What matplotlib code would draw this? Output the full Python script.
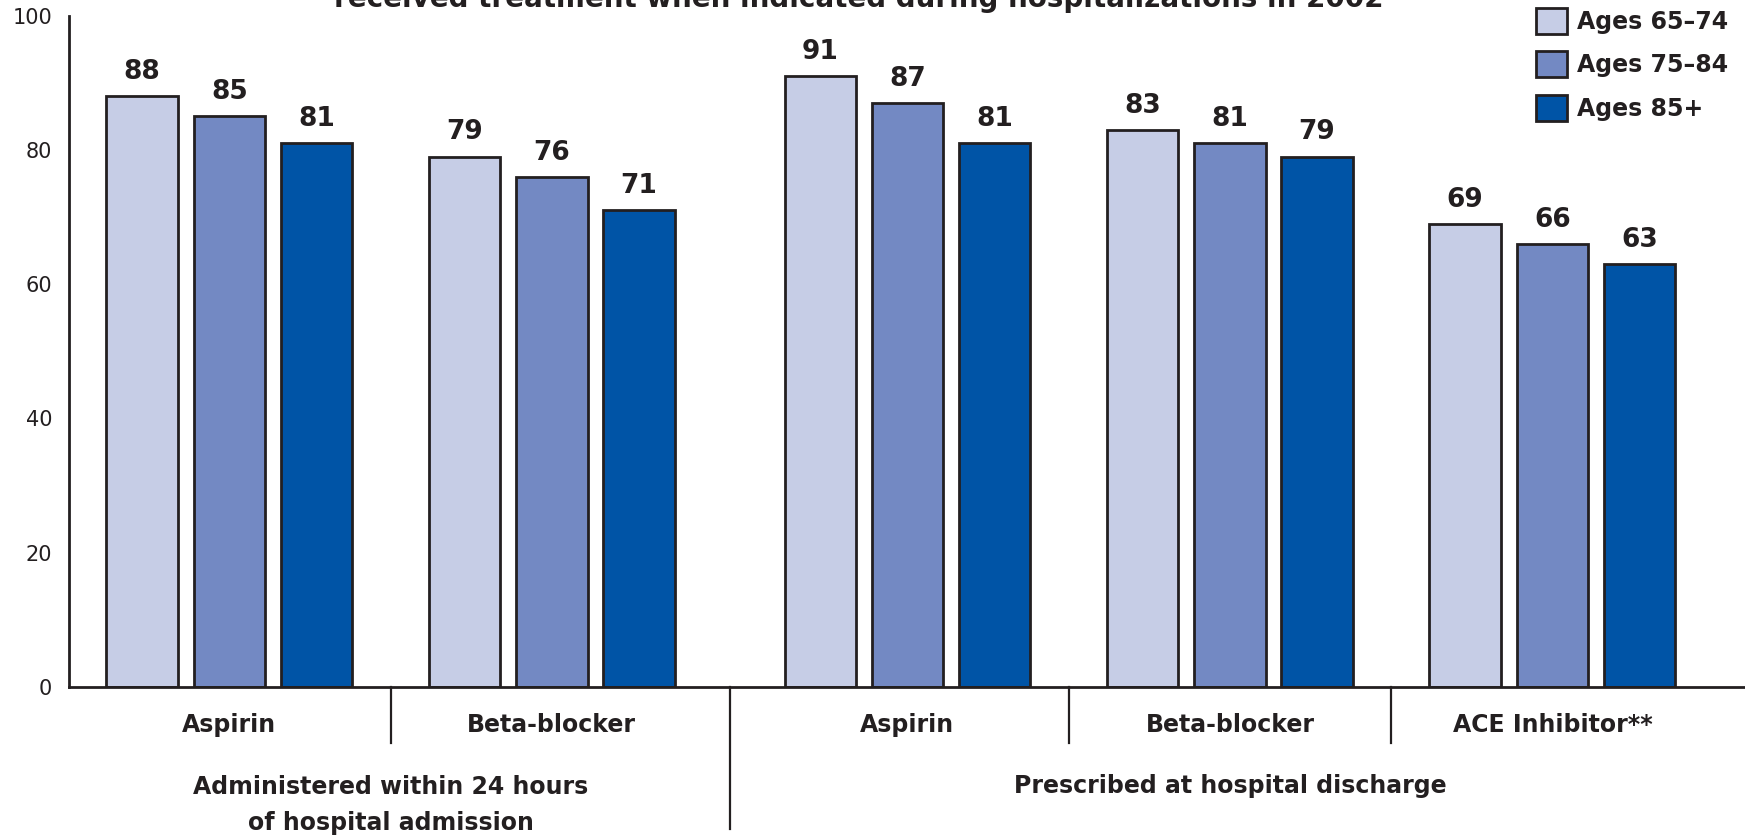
import matplotlib.pyplot as plt
import matplotlib.transforms as mtransforms
import numpy as np

# data: percent receiving treatment, by age group
drugs = ["Aspirin", "Beta-blocker", "Aspirin", "Beta-blocker", "ACE Inhibitor**"]
ages_65_74 = [88, 79, 91, 83, 69]
ages_75_84 = [85, 76, 87, 81, 66]
ages_85_up = [81, 71, 81, 79, 63]
series_names = ["Ages 65\u201374", "Ages 75\u201384", "Ages 85+"]
sections = ["Administered within 24 hours\nof hospital admission",
            "Prescribed at hospital discharge"]
yticks = [0, 20, 40, 60, 80, 100]

colors = ["#C6CDE6", "#7389C3", "#0054A6"]
ink = "#231F20"

fig = plt.figure(figsize=(17.45, 8.38), dpi=100)
ax = fig.add_axes([0.0395, 0.1802, 0.9605, 0.8012])

# group centres, with a wider gap between the two sections
centers = np.array([0.0, 3.7, 7.78, 11.48, 15.18])
width = 0.82
bars = []
for i, (vals, col, name) in enumerate(zip([ages_65_74, ages_75_84, ages_85_up], colors, series_names)):
    b = ax.bar(centers + (i - 1), vals, width, color=col, edgecolor=ink,
               linewidth=2, label=name, zorder=2)
    bars.append(b)
    for rect, v in zip(b, vals):
        ax.annotate(str(v), (rect.get_x() + rect.get_width() / 2, v),
                    xytext=(0, 8), textcoords="offset points",
                    ha="center", va="bottom", fontsize=19,
                    fontweight="bold", color=ink)

ax.set_xlim(-1.84, 17.39)
ax.set_ylim(0, 100)
ax.set_yticks(yticks)
ax.tick_params(axis="y", length=0, pad=12, labelsize=15, labelcolor=ink)
ax.set_xticks([])
for s in ["top", "right"]:
    ax.spines[s].set_visible(False)
for s in ["left", "bottom"]:
    ax.spines[s].set_color(ink)
    ax.spines[s].set_linewidth(2)

# category labels and separators below the axis
trans = mtransforms.blended_transform_factory(ax.transData, ax.transAxes)
for c, name in zip(centers, drugs):
    ax.text(c, -0.057, name, transform=trans, ha="center", va="center",
            fontsize=17, fontweight="bold", color=ink)

mids = (centers[:-1] + centers[1:]) / 2
for j, m in enumerate(mids):
    low = -0.212 if j == 1 else -0.083
    ax.plot([m, m], [0, low], transform=trans, color=ink, lw=1.6,
            clip_on=False)

ax.text(mids[0], -0.176, sections[0], transform=trans, ha="center",
        va="center", fontsize=17, fontweight="bold", color=ink,
        linespacing=1.6)
ax.text(centers[2:].mean(), -0.148, sections[1], transform=trans,
        ha="center", va="center", fontsize=17, fontweight="bold", color=ink)

# title line running off the top edge
fig.text(0.492, 0.9916, "received treatment when indicated during hospitalizations in 2002",
         ha="center", va="baseline", fontsize=20, fontweight="bold", color=ink)

leg = fig.legend(handles=bars, loc="upper left",
                 bbox_to_anchor=(1536 / 1745, 1 - 8 / 838),
                 frameon=False, borderpad=0, borderaxespad=0,
                 handlelength=1.3, handleheight=1.3, handletextpad=0.45,
                 labelspacing=0.75, prop={"size": 17, "weight": "bold"})
for t in leg.get_texts():
    t.set_color(ink)

fig.savefig("out.png", dpi=100)
